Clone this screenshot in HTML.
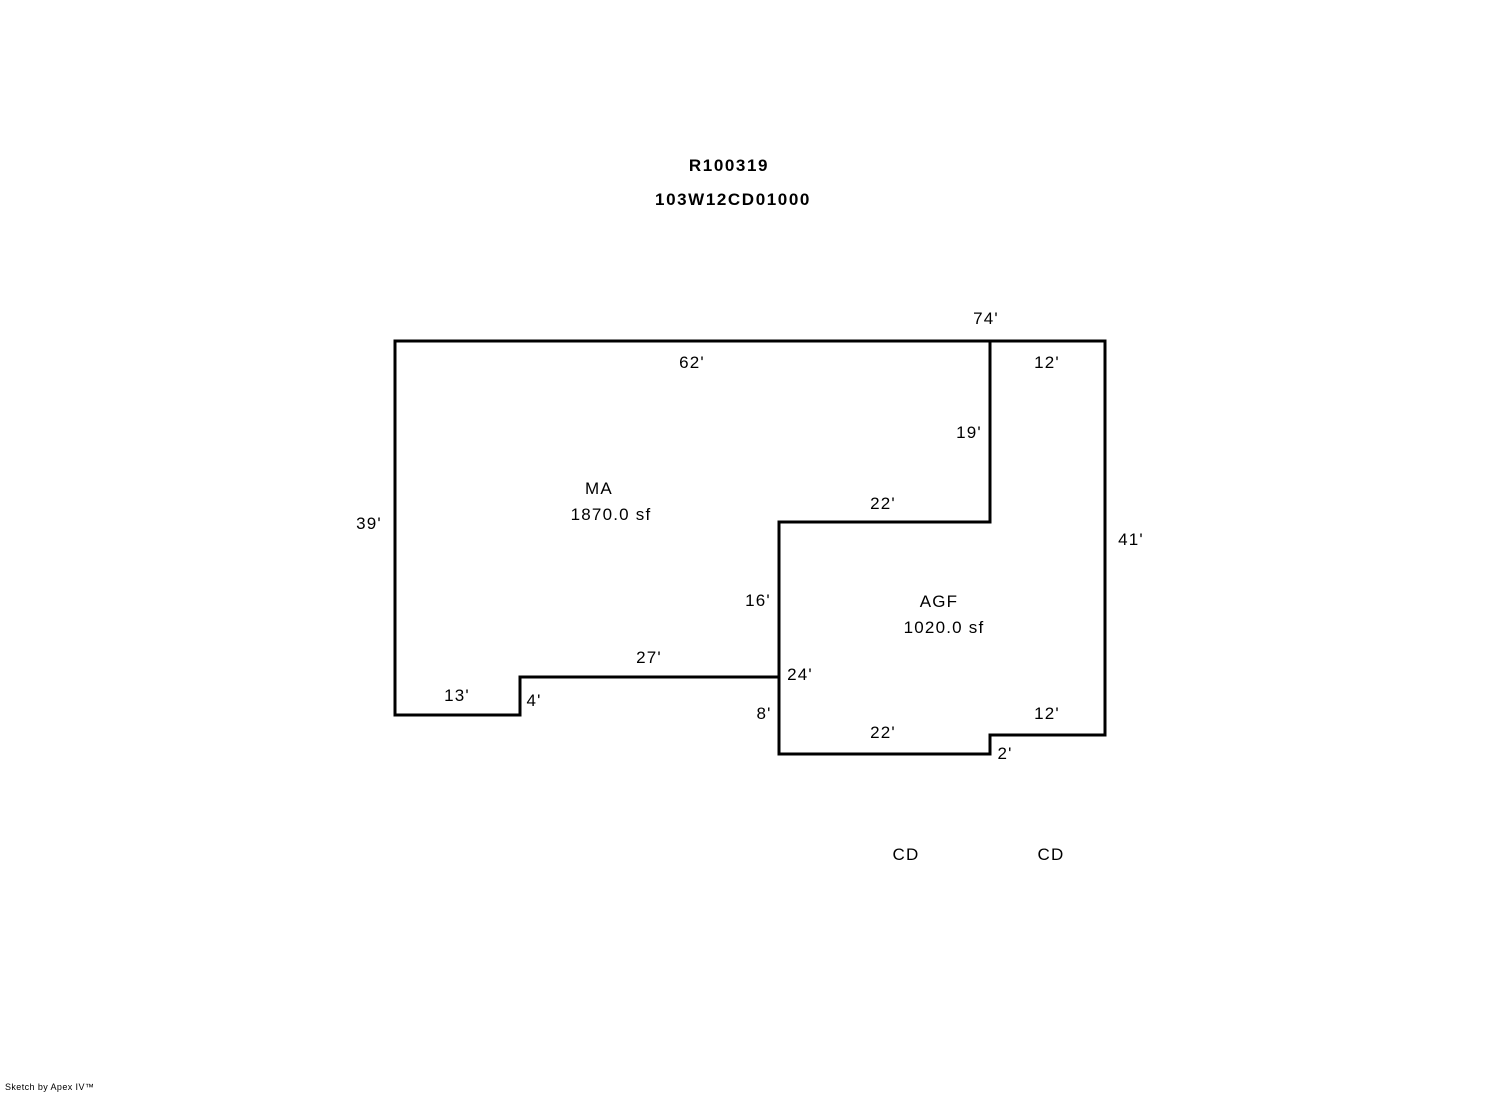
<!DOCTYPE html>
<html><head><meta charset="utf-8"><style>
html,body{margin:0;padding:0;background:#fff;}
svg{display:block}
text{font-family:"Liberation Sans",Arial,sans-serif;font-size:17px;fill:#000;letter-spacing:1.2px}
</style></head><body>
<svg width="1492" height="1094" viewBox="0 0 1492 1094" xmlns="http://www.w3.org/2000/svg">
<g fill="none" stroke="#000" stroke-width="3" stroke-linejoin="miter" stroke-linecap="square">
<polyline points="990,341 395,341 395,715 520,715 520,677 779,677"/>
<polyline points="990,341 1105,341 1105,735 990,735 990,754 779,754 779,522 990,522 990,341"/>
</g>
<text x="729" y="171" text-anchor="middle" font-weight="bold" style="letter-spacing:1.6px">R100319</text>
<text x="733" y="205" text-anchor="middle" font-weight="bold" style="letter-spacing:1.6px">103W12CD01000</text>
<text x="986" y="324" text-anchor="middle">74'</text>
<text x="692" y="368" text-anchor="middle">62'</text>
<text x="1047" y="368" text-anchor="middle">12'</text>
<text x="969" y="438" text-anchor="middle">19'</text>
<text x="599" y="494" text-anchor="middle">MA</text>
<text x="611" y="520" text-anchor="middle">1870.0 sf</text>
<text x="883" y="509" text-anchor="middle">22'</text>
<text x="369" y="529" text-anchor="middle">39'</text>
<text x="1131" y="545" text-anchor="middle">41'</text>
<text x="758" y="606" text-anchor="middle">16'</text>
<text x="939" y="607" text-anchor="middle">AGF</text>
<text x="944" y="633" text-anchor="middle">1020.0 sf</text>
<text x="649" y="663" text-anchor="middle">27'</text>
<text x="800" y="680" text-anchor="middle">24'</text>
<text x="457" y="701" text-anchor="middle">13'</text>
<text x="534" y="706" text-anchor="middle">4'</text>
<text x="764" y="719" text-anchor="middle">8'</text>
<text x="1047" y="719" text-anchor="middle">12'</text>
<text x="883" y="738" text-anchor="middle">22'</text>
<text x="1005" y="759" text-anchor="middle">2'</text>
<text x="906" y="860" text-anchor="middle">CD</text>
<text x="1051" y="860" text-anchor="middle">CD</text>
<text x="5" y="1090" style="font-size:9px;letter-spacing:0.4px">Sketch by Apex IV™</text>
</svg>
</body></html>
